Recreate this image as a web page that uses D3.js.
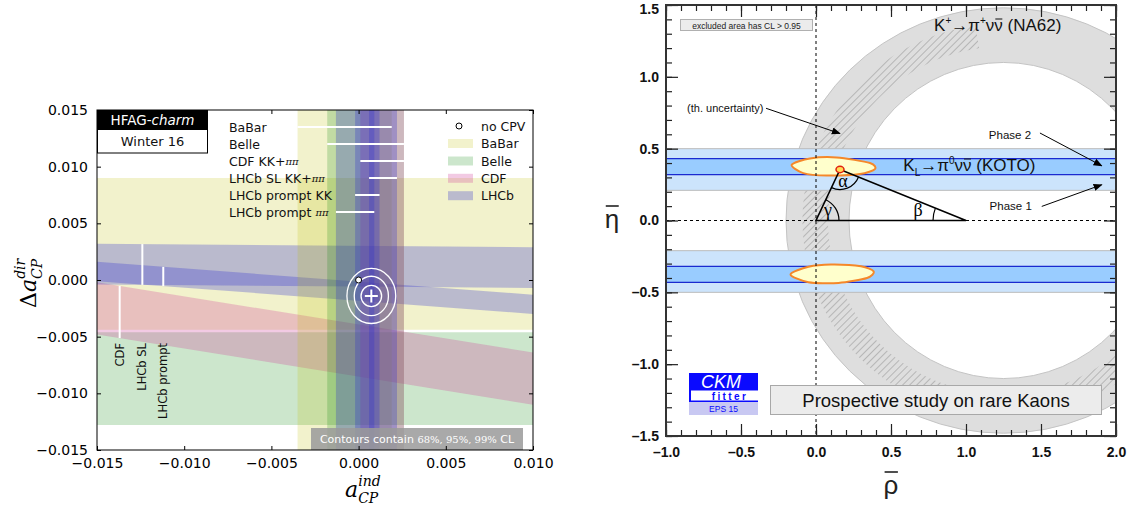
<!DOCTYPE html>
<html>
<head>
<meta charset="utf-8">
<script src="https://cdn.jsdelivr.net/npm/d3@7"></script>
<style>
  body { margin: 0; background: #fff; }
  svg { display: block; }
</style>
</head>
<body>
<svg id="fig" width="1135" height="514"></svg>
<script>
// ---------------- left panel data (HFAG charm, Winter 16) ----------------
// slanted / horizontal bands: delta a_CP^dir range at a_ind = -0.015 (L) and +0.010 (R)
const slantExp = ['BaBar', 'Belle', 'CDF', 'LHCb', 'LHCb'];
const slantLoL = [-0.0044, -0.0128, -0.0048, -0.0004, -0.0001];
const slantHiL = [0.0090, -0.0046, -0.0002, 0.0032, 0.0016];
const slantLoR = [-0.0044, -0.0128, -0.0110, -0.0007, -0.0030];
const slantHiR = [0.0090, -0.0046, -0.0064, 0.0029, -0.0013];

// vertical bands: a_ind range (= -A_Gamma)
const vertExp = ['BaBar', 'Belle', 'CDF', 'LHCb', 'LHCb', 'LHCb'];
const vertName = ['BaBar', 'Belle', 'CDF KK+', 'LHCb SL KK+', 'LHCb prompt KK', 'LHCb prompt '];
const vertPiPi = [false, false, true, true, false, true];
const vertLo = [-0.0035, -0.0018, 0.0001, 0.0006, -0.0002, -0.0013];
const vertHi = [0.0019, 0.0026, 0.0026, 0.0022, 0.0012, 0.0009];
const vertMarkY = [0.0135, 0.0120, 0.0105, 0.0090, 0.0075, 0.0060];

// vertical white markers for the slanted bands
const markName = ['CDF', 'LHCb SL', 'LHCb prompt'];
const markBand = [2, 3, 4];
const markA = [-0.0137, -0.0124, -0.0112];

// fit result contours (68, 95, 99 % CL)
const fitCenter = [0.00073, -0.00141];
const fitRx = [0.00059, 0.00098, 0.00140];
const fitRy = [0.00094, 0.00174, 0.00243];

const legendExp = ['BaBar', 'Belle', 'CDF', 'LHCb'];
const leftXTicks = [-0.015, -0.010, -0.005, 0.000, 0.005, 0.010];
const leftYTicks = [-0.015, -0.010, -0.005, 0.000, 0.005, 0.010, 0.015];

// ---------------- right panel data (CKMfitter, rare kaons) ----------------
const ringCenter = [1.25, 0];
const ringOuter = [1.45, 1.48];
const ringInner = [1.03, 1.10];
const hatchOuter = [1.34, 1.37];
const hatchInner = [1.17, 1.21];
const hatchSectors = [[98, 252], [290, 315]];

const kotoPhase1 = [[0.21, 0.50], [-0.50, -0.21]];
const kotoPhase2 = [[0.32, 0.43], [-0.43, -0.32]];

const blobTop = [[-0.162, 0.388], [-0.04, 0.432], [0.138, 0.439], [0.36, 0.40], [0.393, 0.358],
  [0.293, 0.323], [0.071, 0.313], [-0.085, 0.33]];
const blobBottom = [[-0.17, -0.375], [-0.05, -0.322], [0.10, -0.306], [0.30, -0.318], [0.385, -0.355],
  [0.34, -0.40], [0.15, -0.435], [-0.05, -0.43]];

const utApex = [0.16, 0.355];
const utTriangle = [[0, 0], [1, 0], utApex];

const rightMajor = [-1.5, -1.0, -0.5, 0.0, 0.5, 1.0, 1.5, 2.0];
const rightMinorX = d3.range(-10, 21).map(d => d / 10);
const rightMinorY = d3.range(-15, 16).map(d => d / 10);

// ---------------- styles ----------------
const expColor = { BaBar: '#bfbf00', Belle: '#008000', CDF: '#d03c98', LHCb: '#2a2ad0' };
const expAlpha = { BaBar: 0.2, Belle: 0.2, CDF: 0.27, LHCb: 0.28 };

const svg = d3.select('#fig');
const defs = svg.append('defs');

// draws a bar over character idx of a text node, at height `lift` above the baseline
function overbar(parent, textSel, idx, baseline, lift, width) {
  const box = textSel.node().getExtentOfChar(idx);
  parent.append('line')
    .attr('x1', box.x + 1).attr('x2', box.x + box.width - 0.5)
    .attr('y1', baseline - lift).attr('y2', baseline - lift)
    .attr('stroke', '#222').attr('stroke-width', width);
}

// =========================== LEFT PANEL ===========================
const xL = d3.scaleLinear().domain([-0.015, 0.010]).range([97, 533]);
const yL = d3.scaleLinear().domain([-0.015, 0.015]).range([450, 110]);

defs.append('clipPath').attr('id', 'clipL').append('rect')
  .attr('x', xL(-0.015)).attr('y', yL(0.015))
  .attr('width', xL(0.010) - xL(-0.015)).attr('height', yL(-0.015) - yL(0.015));

const L = svg.append('g');
const plotL = L.append('g').attr('clip-path', 'url(#clipL)');

// slanted bands
plotL.selectAll('path.slant')
  .data(d3.range(slantExp.length))
  .join('path')
  .attr('class', 'slant')
  .attr('d', (i) => d3.line()([
    [xL(-0.015), yL(slantLoL[i])], [xL(0.010), yL(slantLoR[i])],
    [xL(0.010), yL(slantHiR[i])], [xL(-0.015), yL(slantHiL[i])]]) + 'Z')
  .attr('fill', (i) => expColor[slantExp[i]])
  .attr('fill-opacity', (i) => expAlpha[slantExp[i]]);

// vertical bands
plotL.selectAll('rect.vert')
  .data(d3.range(vertExp.length))
  .join('rect')
  .attr('class', 'vert')
  .attr('x', (i) => xL(vertLo[i]))
  .attr('width', (i) => xL(vertHi[i]) - xL(vertLo[i]))
  .attr('y', yL(0.015))
  .attr('height', yL(-0.015) - yL(0.015))
  .attr('fill', (i) => expColor[vertExp[i]])
  .attr('fill-opacity', (i) => expAlpha[vertExp[i]]);

// white lines showing vertical band extents, with labels
plotL.selectAll('line.vmark')
  .data(d3.range(vertExp.length))
  .join('line')
  .attr('x1', (i) => xL(vertLo[i])).attr('x2', (i) => xL(vertHi[i]))
  .attr('y1', (i) => yL(vertMarkY[i])).attr('y2', (i) => yL(vertMarkY[i]))
  .attr('stroke', '#fff').attr('stroke-width', 2);

const vlab = L.selectAll('text.vlab')
  .data(d3.range(vertExp.length))
  .join('text')
  .attr('x', 229)
  .attr('y', (i) => yL(vertMarkY[i]))
  .attr('dominant-baseline', 'central')
  .attr('font-family', 'DejaVu Sans')
  .attr('font-size', 12.5)
  .attr('fill', '#111')
  .text((i) => vertName[i]);
vlab.filter((i) => vertPiPi[i]).append('tspan')
  .attr('font-family', 'DejaVu Serif').attr('font-style', 'italic').attr('font-size', 10)
  .text('ππ');

// markers for slanted bands
function bandAt(i, a) {
  const t = (a + 0.015) / 0.025;
  return [slantLoL[i] + t * (slantLoR[i] - slantLoL[i]), slantHiL[i] + t * (slantHiR[i] - slantHiL[i])];
}
markName.forEach((name, k) => {
  const [lo, hi] = bandAt(markBand[k], markA[k]);
  plotL.append('line')
    .attr('x1', xL(markA[k])).attr('x2', xL(markA[k]))
    .attr('y1', yL(lo)).attr('y2', yL(hi))
    .attr('stroke', '#fff').attr('stroke-width', 2);
  L.append('text')
    .attr('transform', `translate(${xL(markA[k]) + 4},343) rotate(-90)`)
    .attr('text-anchor', 'end')
    .attr('font-family', 'DejaVu Sans').attr('font-size', 11.5).attr('fill', '#111')
    .text(name);
});

// fit contours
fitRx.forEach((rx, k) => {
  plotL.append('ellipse')
    .attr('cx', xL(fitCenter[0])).attr('cy', yL(fitCenter[1]))
    .attr('rx', xL(fitCenter[0] + rx) - xL(fitCenter[0]))
    .attr('ry', yL(fitCenter[1]) - yL(fitCenter[1] + fitRy[k]))
    .attr('fill', 'none').attr('stroke', '#fff').attr('stroke-width', 1.3);
});
const fc = [xL(fitCenter[0]), yL(fitCenter[1])];
plotL.append('path')
  .attr('d', `M${fc[0] - 6.5},${fc[1]}H${fc[0] + 6.5}M${fc[0]},${fc[1] - 6.5}V${fc[1] + 6.5}`)
  .attr('stroke', '#fff').attr('stroke-width', 2);

// no CPV point
plotL.append('circle').attr('cx', xL(0)).attr('cy', yL(0)).attr('r', 3)
  .attr('fill', '#fff').attr('stroke', '#000').attr('stroke-width', 1);

// caption box
L.append('rect').attr('x', 311).attr('y', 428).attr('width', 212).attr('height', 22)
  .attr('fill', '#9a9a9a').attr('fill-opacity', 0.85);
const cap = L.append('text').attr('x', 417).attr('y', 439).attr('text-anchor', 'middle')
  .attr('dominant-baseline', 'central')
  .attr('font-family', 'DejaVu Sans').attr('font-size', 11).attr('fill', '#fff');
cap.append('tspan').text('Contours contain ');
cap.append('tspan').attr('font-family', 'DejaVu Serif').attr('font-size', 10).text('68%, 95%, 99%');
cap.append('tspan').text(' CL');

// HFAG-charm badge
L.append('rect').attr('x', 97).attr('y', 110).attr('width', 111).attr('height', 19).attr('fill', '#000');
const hf = L.append('text').attr('x', 152.5).attr('y', 120).attr('text-anchor', 'middle')
  .attr('dominant-baseline', 'central').attr('font-family', 'DejaVu Sans').attr('font-size', 13.5).attr('fill', '#fff');
hf.append('tspan').text('HFAG-');
hf.append('tspan').attr('font-style', 'italic').text('charm');
L.append('rect').attr('x', 97.5).attr('y', 129.5).attr('width', 110).attr('height', 23.5)
  .attr('fill', '#fff').attr('stroke', '#000').attr('stroke-width', 1);
L.append('text').attr('x', 152.5).attr('y', 141.5).attr('text-anchor', 'middle')
  .attr('dominant-baseline', 'central').attr('font-family', 'DejaVu Sans').attr('font-size', 13)
  .attr('fill', '#111').text('Winter 16');

// legend (right)
const legRows = [126, 143.5, 161, 178.3, 195.7];
L.append('circle').attr('cx', 459).attr('cy', legRows[0]).attr('r', 3)
  .attr('fill', '#fff').attr('stroke', '#000').attr('stroke-width', 1);
L.append('text').attr('x', 481).attr('y', legRows[0]).attr('dominant-baseline', 'central')
  .attr('font-family', 'DejaVu Sans').attr('font-size', 12.5).attr('fill', '#111').text('no CPV');
legendExp.forEach((e, k) => {
  L.append('rect').attr('x', 448).attr('y', legRows[k + 1] - 4.5).attr('width', 25).attr('height', 9)
    .attr('fill', expColor[e]).attr('fill-opacity', expAlpha[e]);
  L.append('text').attr('x', 481).attr('y', legRows[k + 1]).attr('dominant-baseline', 'central')
    .attr('font-family', 'DejaVu Sans').attr('font-size', 12.5).attr('fill', '#111').text(e);
});

// axes
const fmtL = d3.format('.3f');
const axBottomL = L.append('g').attr('transform', `translate(0,${yL(-0.015)})`)
  .call(d3.axisBottom(xL).tickValues(leftXTicks).tickFormat(fmtL).tickSize(-4).tickPadding(8));
const axLeftL = L.append('g').attr('transform', `translate(${xL(-0.015)},0)`)
  .call(d3.axisLeft(yL).tickValues(leftYTicks).tickFormat(fmtL).tickSize(-4).tickPadding(9));
L.append('g').attr('transform', `translate(0,${yL(0.015)})`)
  .call(d3.axisTop(xL).tickValues(leftXTicks).tickFormat('').tickSize(-4));
L.append('g').attr('transform', `translate(${xL(0.010)},0)`)
  .call(d3.axisRight(yL).tickValues(leftYTicks).tickFormat('').tickSize(-4));
L.selectAll('.domain').remove();
L.selectAll('.tick line').attr('stroke', '#000');
[axBottomL, axLeftL].forEach((ax) => ax.selectAll('text')
  .attr('font-family', 'DejaVu Sans').attr('font-size', 14).attr('fill', '#000'));
L.append('rect').attr('x', xL(-0.015)).attr('y', yL(0.015))
  .attr('width', xL(0.010) - xL(-0.015)).attr('height', yL(-0.015) - yL(0.015))
  .attr('fill', 'none').attr('stroke', '#000').attr('stroke-width', 1);

// axis titles
const xt = L.append('text').attr('x', 345).attr('y', 497).attr('font-family', 'DejaVu Serif')
  .attr('font-style', 'italic').attr('font-size', 22).attr('fill', '#000');
xt.append('tspan').text('a');
xt.append('tspan').attr('font-size', 14).attr('dy', 6).text('CP');
xt.append('tspan').attr('font-size', 14).attr('dx', -20).attr('dy', -17).text('ind');

const yt = L.append('text').attr('transform', 'translate(36,308) rotate(-90)')
  .attr('font-family', 'DejaVu Serif').attr('font-size', 22).attr('fill', '#000');
yt.append('tspan').text('Δ');
yt.append('tspan').attr('font-style', 'italic').text('a');
yt.append('tspan').attr('font-style', 'italic').attr('font-size', 14).attr('dy', 6).text('CP');
yt.append('tspan').attr('font-style', 'italic').attr('font-size', 14).attr('dx', -20).attr('dy', -17).text('dir');

// =========================== RIGHT PANEL ===========================
const xR = d3.scaleLinear().domain([-1, 2]).range([666, 1116]);
const yR = d3.scaleLinear().domain([-1.5, 1.5]).range([436, 5]);

defs.append('clipPath').attr('id', 'clipR').append('rect')
  .attr('x', xR(-1)).attr('y', yR(1.5))
  .attr('width', xR(2) - xR(-1)).attr('height', yR(-1.5) - yR(1.5));

const hatch = defs.append('pattern').attr('id', 'hatch').attr('patternUnits', 'userSpaceOnUse')
  .attr('width', 5).attr('height', 5).attr('patternTransform', 'rotate(45)');
hatch.append('line').attr('x1', 0).attr('y1', 0).attr('x2', 0).attr('y2', 5)
  .attr('stroke', '#8e8e8e').attr('stroke-width', 1);

const arrowM = defs.append('marker').attr('id', 'arrow').attr('viewBox', '0 0 10 10')
  .attr('refX', 9).attr('refY', 5).attr('markerWidth', 9).attr('markerHeight', 9)
  .attr('markerUnits', 'userSpaceOnUse').attr('orient', 'auto');
arrowM.append('path').attr('d', 'M0,1L10,5L0,9Z').attr('fill', '#000');

const R = svg.append('g');
const plotR = R.append('g').attr('clip-path', 'url(#clipR)');

function ellipsePath(c, r) {
  const cx = xR(c[0]), cy = yR(c[1]);
  const rx = xR(c[0] + r[0]) - cx, ry = cy - yR(c[1] + r[1]);
  return `M${cx + rx},${cy}A${rx},${ry} 0 1 0 ${cx - rx},${cy}A${rx},${ry} 0 1 0 ${cx + rx},${cy}Z`;
}
function sectorPath(c, outer, inner, t0, t1) {
  const ts = d3.range(t0, t1 + 0.01, 2).map((t) => (t * Math.PI) / 180);
  const out = ts.map((t) => [xR(c[0] + outer[0] * Math.cos(t)), yR(c[1] + outer[1] * Math.sin(t))]);
  const inn = ts.slice().reverse().map((t) => [xR(c[0] + inner[0] * Math.cos(t)), yR(c[1] + inner[1] * Math.sin(t))]);
  return d3.line()(out.concat(inn)) + 'Z';
}

// K+ -> pi+ nu nubar ring
plotR.append('path')
  .attr('d', ellipsePath(ringCenter, ringOuter) + ellipsePath(ringCenter, ringInner))
  .attr('fill', '#dedede').attr('fill-rule', 'evenodd')
  .attr('stroke', '#c4c4c4').attr('stroke-width', 1);
hatchSectors.forEach(([t0, t1]) => {
  plotR.append('path').attr('d', sectorPath(ringCenter, hatchOuter, hatchInner, t0, t1))
    .attr('fill', 'url(#hatch)');
});

// KL -> pi0 nu nubar bands
kotoPhase1.forEach(([lo, hi]) => {
  plotR.append('rect').attr('x', xR(-1)).attr('width', xR(2) - xR(-1))
    .attr('y', yR(hi)).attr('height', yR(lo) - yR(hi))
    .attr('fill', '#cce4fc').attr('stroke', '#bcbcbc').attr('stroke-width', 1);
});
kotoPhase2.forEach(([lo, hi]) => {
  plotR.append('rect').attr('x', xR(-1)).attr('width', xR(2) - xR(-1))
    .attr('y', yR(hi)).attr('height', yR(lo) - yR(hi))
    .attr('fill', '#99ccff');
  [lo, hi].forEach((v) => plotR.append('line').attr('x1', xR(-1)).attr('x2', xR(2))
    .attr('y1', yR(v)).attr('y2', yR(v)).attr('stroke', '#1a2ad0').attr('stroke-width', 1.3));
});

// combined fit blobs
[blobTop, blobBottom].forEach((blob) => {
  plotR.append('path')
    .attr('d', d3.line().curve(d3.curveCardinalClosed.tension(0.2))(blob.map((p) => [xR(p[0]), yR(p[1])])))
    .attr('fill', '#ffffcc').attr('stroke', '#f5882a').attr('stroke-width', 2);
});

// dashed axes
plotR.append('line').attr('x1', xR(0)).attr('x2', xR(0)).attr('y1', yR(1.5)).attr('y2', yR(-1.5))
  .attr('stroke', '#000').attr('stroke-width', 1).attr('stroke-dasharray', '3,3');
plotR.append('line').attr('x1', xR(-1)).attr('x2', xR(2)).attr('y1', yR(0)).attr('y2', yR(0))
  .attr('stroke', '#000').attr('stroke-width', 1).attr('stroke-dasharray', '3,3');

// unitarity triangle
const tri = utTriangle.map((p) => [xR(p[0]), yR(p[1])]);
plotR.append('path').attr('d', d3.line()(tri) + 'Z')
  .attr('fill', 'none').attr('stroke', '#000').attr('stroke-width', 1.6);
function angleArc(V, P1, P2, r) {
  const a1 = Math.atan2(P1[1] - V[1], P1[0] - V[0]);
  const a2 = Math.atan2(P2[1] - V[1], P2[0] - V[0]);
  let d = a2 - a1;
  while (d > Math.PI) d -= 2 * Math.PI;
  while (d < -Math.PI) d += 2 * Math.PI;
  return `M${V[0] + r * Math.cos(a1)},${V[1] + r * Math.sin(a1)}A${r},${r} 0 0 ${d > 0 ? 1 : 0} ${V[0] + r * Math.cos(a2)},${V[1] + r * Math.sin(a2)}`;
}
[[tri[0], tri[1], tri[2], 23], [tri[2], tri[0], tri[1], 20], [tri[1], tri[2], tri[0], 33]].forEach(([V, P1, P2, r]) => {
  plotR.append('path').attr('d', angleArc(V, P1, P2, r))
    .attr('fill', 'none').attr('stroke', '#000').attr('stroke-width', 1.2);
});
plotR.append('ellipse').attr('cx', xR(utApex[0])).attr('cy', yR(utApex[1])).attr('rx', 4).attr('ry', 3.2)
  .attr('fill', '#ffdd55').attr('stroke', '#e02010').attr('stroke-width', 1.5);

const greek = [['γ', 0.08, 0.075], ['α', 0.18, 0.272], ['β', 0.68, 0.075]];
greek.forEach(([g, r, e]) => {
  R.append('text').attr('x', xR(r)).attr('y', yR(e)).attr('text-anchor', 'middle')
    .attr('dominant-baseline', 'central').attr('font-family', 'Liberation Serif')
    .attr('font-size', 18).attr('fill', '#000').text(g);
});

// annotations
const sans = 'Liberation Sans';
const na62 = R.append('text').attr('x', xR(0.787)).attr('y', 31).attr('font-family', sans)
  .attr('font-size', 17).attr('fill', '#111');
na62.append('tspan').text('K');
na62.append('tspan').attr('font-size', 10).attr('dy', -7).text('+');
na62.append('tspan').attr('dy', 7).text('→π');
na62.append('tspan').attr('font-size', 10).attr('dy', -7).text('+');
na62.append('tspan').attr('dy', 7).text('νν (NA62)');
overbar(R, na62, 6, 31, 12, 1.1);

const koto = R.append('text').attr('x', xR(0.582)).attr('y', 171).attr('font-family', sans)
  .attr('font-size', 17).attr('fill', '#111');
koto.append('tspan').text('K');
koto.append('tspan').attr('font-size', 10).attr('dy', 5).text('L');
koto.append('tspan').attr('dy', -5).text('→π');
koto.append('tspan').attr('font-size', 10).attr('dy', -7).text('0');
koto.append('tspan').attr('dy', 7).text('νν (KOTO)');
overbar(R, koto, 6, 171, 12, 1.1);

R.append('text').attr('x', xR(-0.35)).attr('y', yR(0.78)).attr('text-anchor', 'end')
  .attr('dominant-baseline', 'central').attr('font-family', sans).attr('font-size', 11)
  .attr('fill', '#111').text('(th. uncertainty)');
R.append('text').attr('x', xR(1.293)).attr('y', yR(0.597)).attr('text-anchor', 'middle')
  .attr('dominant-baseline', 'central').attr('font-family', sans).attr('font-size', 11.5)
  .attr('fill', '#111').text('Phase 2');
R.append('text').attr('x', xR(1.298)).attr('y', yR(0.103)).attr('text-anchor', 'middle')
  .attr('dominant-baseline', 'central').attr('font-family', sans).attr('font-size', 11.5)
  .attr('fill', '#111').text('Phase 1');

const arrows = [[[-0.333, 0.781], [0.16, 0.605]], [[1.493, 0.609], [1.905, 0.381]], [[1.505, 0.098], [1.905, 0.249]]];
arrows.forEach(([a, b]) => {
  R.append('line').attr('x1', xR(a[0])).attr('y1', yR(a[1])).attr('x2', xR(b[0])).attr('y2', yR(b[1]))
    .attr('stroke', '#000').attr('stroke-width', 1).attr('marker-end', 'url(#arrow)');
});

// CL note box
R.append('rect').attr('x', 680.5).attr('y', 19.5).attr('width', 132).attr('height', 11)
  .attr('fill', '#ececec').attr('stroke', '#b0b0b0').attr('stroke-width', 1);
R.append('text').attr('x', 746.5).attr('y', 25.5).attr('text-anchor', 'middle').attr('dominant-baseline', 'central')
  .attr('font-family', sans).attr('font-size', 8.5).attr('fill', '#222').text('excluded area has CL > 0.95');

// prospective study box
R.append('rect').attr('x', 770.5).attr('y', 385.5).attr('width', 331).attr('height', 29)
  .attr('fill', '#ececec').attr('stroke', '#a8a8a8').attr('stroke-width', 1);
R.append('text').attr('x', 936).attr('y', 400).attr('text-anchor', 'middle').attr('dominant-baseline', 'central')
  .attr('font-family', sans).attr('font-size', 18.5).attr('fill', '#111').text('Prospective study on rare Kaons');

// CKMfitter logo
R.append('rect').attr('x', 689).attr('y', 373).attr('width', 69).attr('height', 29).attr('fill', '#0a0aff');
R.append('rect').attr('x', 691).attr('y', 390.5).attr('width', 67).attr('height', 10).attr('fill', '#fff');
R.append('rect').attr('x', 689).attr('y', 402).attr('width', 69).attr('height', 13).attr('fill', '#c8c8f2');
R.append('text').attr('x', 721).attr('y', 382).attr('text-anchor', 'middle').attr('dominant-baseline', 'central')
  .attr('font-family', sans).attr('font-style', 'italic').attr('font-size', 18).attr('fill', '#fff').text('CKM');
R.append('text').attr('x', 730).attr('y', 396).attr('text-anchor', 'middle').attr('dominant-baseline', 'central')
  .attr('font-family', sans).attr('font-weight', 'bold').attr('font-size', 10).attr('letter-spacing', 2.4)
  .attr('fill', '#0a0aff').text('fitter');
R.append('text').attr('x', 723.5).attr('y', 409).attr('text-anchor', 'middle').attr('dominant-baseline', 'central')
  .attr('font-family', sans).attr('font-size', 8.5).attr('fill', '#0a0aff').text('EPS 15');

// frame and ticks
const fmtR = (d) => d3.format('.1f')(d).replace('−', '–').replace('-', '–');
const tickStyle = (g) => g.selectAll('.tick line').attr('stroke', '#222').attr('stroke-width', 1.2);
R.append('g').attr('transform', `translate(0,${yR(-1.5)})`)
  .call(d3.axisBottom(xR).tickValues(rightMinorX).tickFormat('').tickSize(-6)).call(tickStyle);
R.append('g').attr('transform', `translate(0,${yR(1.5)})`)
  .call(d3.axisTop(xR).tickValues(rightMinorX).tickFormat('').tickSize(-6)).call(tickStyle);
R.append('g').attr('transform', `translate(${xR(-1)},0)`)
  .call(d3.axisLeft(yR).tickValues(rightMinorY).tickFormat('').tickSize(-6)).call(tickStyle);
R.append('g').attr('transform', `translate(${xR(2)},0)`)
  .call(d3.axisRight(yR).tickValues(rightMinorY).tickFormat('').tickSize(-6)).call(tickStyle);

const axBR = R.append('g').attr('transform', `translate(0,${yR(-1.5)})`)
  .call(d3.axisBottom(xR).tickValues(rightMajor.filter((d) => d >= -1)).tickFormat(fmtR).tickSize(-12).tickPadding(8))
  .call(tickStyle);
const axLR = R.append('g').attr('transform', `translate(${xR(-1)},0)`)
  .call(d3.axisLeft(yR).tickValues(rightMajor.filter((d) => d <= 1.5)).tickFormat(fmtR).tickSize(-12).tickPadding(7))
  .call(tickStyle);
R.append('g').attr('transform', `translate(0,${yR(1.5)})`)
  .call(d3.axisTop(xR).tickValues(rightMajor.filter((d) => d >= -1)).tickFormat('').tickSize(-12)).call(tickStyle);
R.append('g').attr('transform', `translate(${xR(2)},0)`)
  .call(d3.axisRight(yR).tickValues(rightMajor.filter((d) => d <= 1.5)).tickFormat('').tickSize(-12)).call(tickStyle);
R.selectAll('.domain').remove();
[axBR, axLR].forEach((ax) => ax.selectAll('text')
  .attr('font-family', sans).attr('font-weight', 'bold').attr('font-size', 14).attr('fill', '#111'));
axBR.selectAll('text').attr('dy', '0.9em');
axLR.selectAll('.tick').filter((d) => d === 1.5).select('text').attr('dy', '0.6em');
R.append('rect').attr('x', xR(-1)).attr('y', yR(1.5))
  .attr('width', xR(2) - xR(-1)).attr('height', yR(-1.5) - yR(1.5))
  .attr('fill', 'none').attr('stroke', '#333').attr('stroke-width', 2);

// axis titles
const rhoT = R.append('text').attr('x', xR(0.5)).attr('y', 494).attr('text-anchor', 'middle')
  .attr('font-family', sans).attr('font-size', 26).attr('fill', '#222').text('ρ');
overbar(R, rhoT, 0, 494, 22, 1.6);
const etaT = R.append('text').attr('x', 612).attr('y', 228).attr('text-anchor', 'middle')
  .attr('font-family', sans).attr('font-size', 26).attr('fill', '#222').text('η');
overbar(R, etaT, 0, 228, 22, 1.6);
</script>
</body>
</html>
